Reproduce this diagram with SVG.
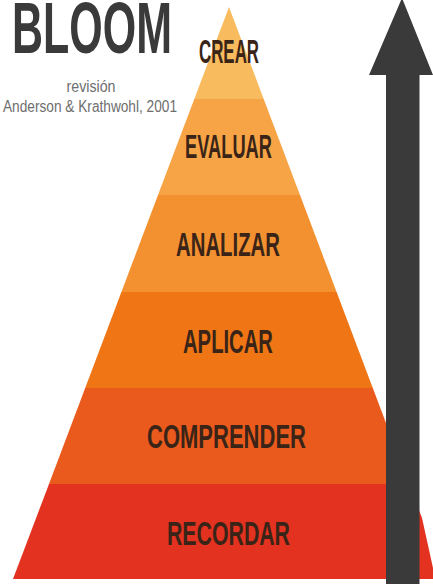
<svg xmlns="http://www.w3.org/2000/svg" width="433" height="584" viewBox="0 0 433 584">
<style>
.lbl{font-family:"Liberation Sans",Arial,sans-serif;font-weight:bold;font-size:33px;fill:#3a2418;text-anchor:middle}
.sub{font-family:"Liberation Sans",Arial,sans-serif;font-size:16px;fill:#6e6e6e;text-anchor:middle}
.title{font-family:"Liberation Sans",Arial,sans-serif;font-weight:bold;font-size:72px;fill:#3a3a3a}
</style>
<rect width="433" height="584" fill="#ffffff"/>
<g id="title">
<text class="title" x="12" y="53" textLength="160" lengthAdjust="spacingAndGlyphs">BLOOM</text>
<text class="sub" x="91" y="92" textLength="49" lengthAdjust="spacingAndGlyphs">revisión</text>
<text class="sub" x="90" y="112" textLength="174" lengthAdjust="spacingAndGlyphs">Anderson &amp; Krathwohl, 2001</text>
</g>
<g id="level-crear">
<polygon points="229,7 263.7,99 194.3,99" fill="#f8bb5e"/>
<text class="lbl" x="229" y="63" textLength="60" lengthAdjust="spacingAndGlyphs">CREAR</text>
</g>
<g id="level-evaluar">
<polygon points="194.3,99 263.7,99 300,195 158,195" fill="#f6a445"/>
<text class="lbl" x="228.5" y="158" textLength="87" lengthAdjust="spacingAndGlyphs">EVALUAR</text>
</g>
<g id="level-analizar">
<polygon points="158,195 300,195 336.6,292 121.4,292" fill="#f39131"/>
<text class="lbl" x="228" y="256" textLength="104" lengthAdjust="spacingAndGlyphs">ANALIZAR</text>
</g>
<g id="level-aplicar">
<polygon points="121.4,292 336.6,292 372.8,388 85.2,388" fill="#ef7515"/>
<text class="lbl" x="228" y="353" textLength="90" lengthAdjust="spacingAndGlyphs">APLICAR</text>
</g>
<g id="level-comprender">
<polygon points="85.2,388 372.8,388 409,484 49,484" fill="#e95a1c"/>
<text class="lbl" x="226.5" y="448" textLength="159" lengthAdjust="spacingAndGlyphs">COMPRENDER</text>
</g>
<g id="level-recordar">
<polygon points="49,484 409,484 422,518 433,568 433,579 13,579" fill="#e3321f"/>
<text class="lbl" x="228.5" y="545" textLength="123" lengthAdjust="spacingAndGlyphs">RECORDAR</text>
</g>
<g id="connectors">
<polygon points="402,-2 433,75 419.5,75 419.5,584 386,584 386,75 369,75" fill="#3a3a3a"/>
</g>
</svg>
